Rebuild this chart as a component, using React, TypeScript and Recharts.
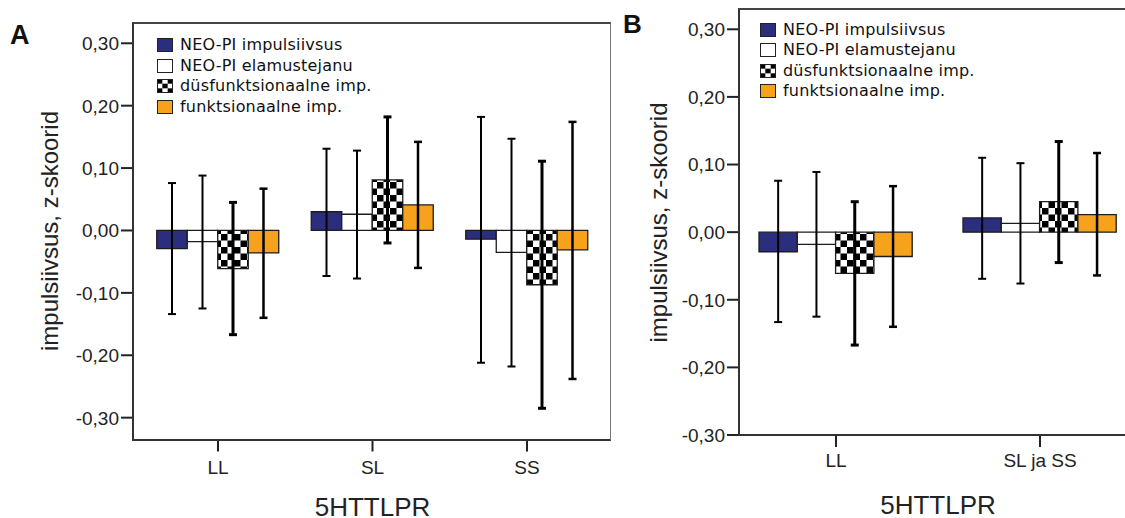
import type { ReactNode } from "react";
import { Bar, BarChart, ErrorBar, Legend, XAxis, YAxis } from "recharts";

// genotype groups
const groupsA = ["LL", "SL", "SS"];
const groupsB = ["LL", "SL ja SS"];

// panel A: group means and 95% CI [lower, upper]
const neoImpA = [-0.029, 0.03, -0.014];
const neoImpCiA = [[-0.134, 0.076], [-0.073, 0.131], [-0.212, 0.182]];
const neoElamA = [-0.018, 0.026, -0.035];
const neoElamCiA = [[-0.125, 0.088], [-0.077, 0.128], [-0.218, 0.147]];
const dysA = [-0.061, 0.081, -0.087];
const dysCiA = [[-0.167, 0.045], [-0.02, 0.182], [-0.285, 0.111]];
const funcA = [-0.036, 0.041, -0.031];
const funcCiA = [[-0.14, 0.067], [-0.06, 0.142], [-0.238, 0.174]];

// panel B: SL and SS pooled
const neoImpB = [-0.029, 0.021];
const neoImpCiB = [[-0.133, 0.076], [-0.069, 0.11]];
const neoElamB = [-0.018, 0.013];
const neoElamCiB = [[-0.125, 0.089], [-0.076, 0.102]];
const dysB = [-0.061, 0.045];
const dysCiB = [[-0.167, 0.045], [-0.045, 0.134]];
const funcB = [-0.036, 0.026];
const funcCiB = [[-0.14, 0.068], [-0.064, 0.117]];

const yTicks = [-0.3, -0.2, -0.1, 0, 0.1, 0.2, 0.3];

const NAVY = "#2b2e7c";
const ORANGE = "#f7a21d";
const INK = "#222";
const SANS = "'Liberation Sans', Arial, sans-serif";

const SERIES = [
  { key: "neoImp", name: "NEO-PI impulsiivsus", fill: NAVY, errWidth: 2 },
  { key: "neoElam", name: "NEO-PI elamustejanu", fill: "#fff", errWidth: 2 },
  { key: "dys", name: "düsfunktsionaalne imp.", fill: "checker", errWidth: 3 },
  { key: "func", name: "funktsionaalne imp.", fill: ORANGE, errWidth: 2.5 },
];

function buildRows(groups: string[], means: number[][], cis: number[][][]) {
  return groups.map((group, i) => {
    const row: Record<string, unknown> = { group };
    SERIES.forEach((s, j) => {
      const m = means[j][i];
      const [lo, hi] = cis[j][i];
      row[s.key] = m;
      row[s.key + "Err"] = [m - lo, hi - m];
    });
    return row;
  });
}

const rowsA = buildRows(groupsA, [neoImpA, neoElamA, dysA, funcA], [neoImpCiA, neoElamCiA, dysCiA, funcCiA]);
const rowsB = buildRows(groupsB, [neoImpB, neoElamB, dysB, funcB], [neoImpCiB, neoElamCiB, dysCiB, funcCiB]);

function fmt(v: number) {
  const s = Math.abs(v).toFixed(2).replace(".", ",");
  return v < -1e-9 ? "-" + s : s;
}

function YTick({ x, y, payload, shift }: any) {
  const edge = x + shift;
  return (
    <g>
      <line x1={edge - 12} x2={edge} y1={y} y2={y} stroke={INK} strokeWidth={2} />
      <text x={edge - 14} y={y} dy="0.36em" textAnchor="end" fontSize={19} fill={INK} fontFamily={SANS}>
        {fmt(payload.value)}
      </text>
    </g>
  );
}

// rotation passed as `turn` so the label props recharts injects don't clobber it
function AxisTitle({ px, py, turn, text, size }: any) {
  return (
    <text
      x={px}
      y={py}
      transform={turn ? `rotate(${turn}, ${px}, ${py})` : undefined}
      textAnchor="middle"
      fontSize={size}
      fill={INK}
      fontFamily={SANS}
    >
      {text}
    </text>
  );
}

function CheckerSwatch() {
  const c = 16 / 3;
  const h = 14 / 3;
  const cells: ReactNode[] = [];
  for (let r = 0; r < 3; r++)
    for (let k = 0; k < 3; k++)
      if ((r + k) % 2 === 0) cells.push(<rect key={`${r}-${k}`} x={k * c} y={r * h} width={c} height={h} fill="#000" />);
  return (
    <svg width={16} height={14} style={{ display: "block" }}>
      <rect x={0} y={0} width={16} height={14} fill="#fff" />
      {cells}
      <rect x={0.5} y={0.5} width={15} height={13} fill="none" stroke="#222" />
    </svg>
  );
}

function SeriesLegend() {
  return (
    <div style={{ fontFamily: "'DejaVu Sans', Verdana, sans-serif", fontSize: 16, color: "#111", letterSpacing: 0.2 }}>
      {SERIES.map((s) => (
        <div key={s.key} style={{ display: "flex", alignItems: "center", height: 20.5 }}>
          {s.fill === "checker" ? (
            <CheckerSwatch />
          ) : (
            <div style={{ width: 16, height: 14, boxSizing: "border-box", background: s.fill, border: "1px solid #222" }} />
          )}
          <span style={{ marginLeft: 7, whiteSpace: "nowrap", lineHeight: "20px" }}>{s.name}</span>
        </div>
      ))}
    </div>
  );
}

type PanelProps = {
  id: string;
  rows: Record<string, unknown>[];
  left: number;
  width: number;
  margin: { top: number; right: number; bottom: number; left: number };
  domain: [number, number];
  barSize: number;
  tickShift: number;
  xTickMargin: number;
  legendPos: { left: number; top: number };
  yTitle: { px: number; py: number };
  xTitle: { px: number; py: number };
};

function Panel(p: PanelProps) {
  const patternId = `checker-${p.id}`;
  return (
    <div style={{ position: "absolute", left: p.left, top: 0 }}>
      <BarChart
        width={p.width}
        height={518}
        data={p.rows}
        margin={p.margin}
        barGap={0}
        barSize={p.barSize}
        style={{ fontFamily: SANS }}
      >
        <defs>
          <pattern id={patternId} patternUnits="userSpaceOnUse" width={13} height={13}>
            <rect x={0} y={0} width={13} height={13} fill="#fff" />
            <rect x={0} y={0} width={6.5} height={6.5} fill="#000" />
            <rect x={6.5} y={6.5} width={6.5} height={6.5} fill="#000" />
          </pattern>
        </defs>
        <XAxis
          dataKey="group"
          interval={0}
          height={70}
          axisLine={false}
          tickLine={{ stroke: INK, strokeWidth: 2 }}
          tickSize={12}
          tickMargin={p.xTickMargin}
          tick={{ fill: INK, fontSize: 19 }}
          label={<AxisTitle px={p.xTitle.px} py={p.xTitle.py} text="5HTTLPR" size={26} />}
        />
        <YAxis
          type="number"
          domain={p.domain}
          ticks={yTicks}
          allowDataOverflow
          width={110}
          axisLine={false}
          tickLine={false}
          tickSize={0}
          tickMargin={0}
          tick={(t: any) => <YTick {...t} shift={p.tickShift} />}
          label={<AxisTitle px={p.yTitle.px} py={p.yTitle.py} turn={-90} text="impulsiivsus, z-skoorid" size={24} />}
        />
        <Legend
          layout="vertical"
          align="center"
          verticalAlign="middle"
          wrapperStyle={{ left: p.legendPos.left, top: p.legendPos.top, width: 260, height: 84 }}
          content={<SeriesLegend />}
        />
        {SERIES.map((s) => (
          <Bar
            key={s.key}
            dataKey={s.key}
            name={s.name}
            fill={s.fill === "checker" ? `url(#${patternId})` : s.fill}
            stroke="#1c1c1c"
            strokeWidth={1.3}
            isAnimationActive={false}
          >
            <ErrorBar
              dataKey={s.key + "Err"}
              direction="y"
              width={4}
              stroke="#000"
              strokeWidth={s.errWidth}
              isAnimationActive={false}
            />
          </Bar>
        ))}
      </BarChart>
    </div>
  );
}

const frame = (left: number, top: number, width: number, height: number) => ({
  position: "absolute" as const,
  left,
  top,
  width,
  height,
  boxSizing: "border-box" as const,
  borderLeft: "2px solid #333",
  borderTop: "2px solid #444",
  borderBottom: "2px solid #333",
  borderRight: "1px solid #777",
  pointerEvents: "none" as const,
});

const letter = (left: number, top: number, size: number) => ({
  position: "absolute" as const,
  left,
  top,
  fontFamily: SANS,
  fontWeight: 700,
  fontSize: size,
  lineHeight: 1,
  color: "#111",
});

export default function App() {
  return (
    <div
      style={{
        position: "fixed",
        left: 0,
        top: 0,
        width: 1125,
        height: 518,
        overflow: "hidden",
        background: "#fff",
      }}
    >
      <Panel
        id="a"
        rows={rowsA}
        left={0}
        width={640}
        margin={{ top: 23, right: 35.75, bottom: 8.5, left: 30.75 }}
        domain={[-0.335, 0.3325]}
        barSize={30.5}
        tickShift={-7.75}
        xTickMargin={9}
        legendPos={{ left: 157, top: 34.75 }}
        yTitle={{ px: 57.5, py: 231 }}
        xTitle={{ px: 372.5, py: 516 }}
      />
      <Panel
        id="b"
        rows={rowsB}
        left={600}
        width={560}
        margin={{ top: 9, right: 18, bottom: 13, left: 24 }}
        domain={[-0.3, 0.33]}
        barSize={38.3}
        tickShift={5}
        xTickMargin={7}
        legendPos={{ left: 160, top: 19.25 }}
        yTitle={{ px: 66.5, py: 222.5 }}
        xTitle={{ px: 338, py: 514 }}
      />
      <div style={frame(132, 22, 479, 418.5)} />
      <div style={frame(738, 8, 400, 428)} />
      <div style={letter(10, 22, 27)}>A</div>
      <div style={letter(623, 11, 26)}>B</div>
    </div>
  );
}
